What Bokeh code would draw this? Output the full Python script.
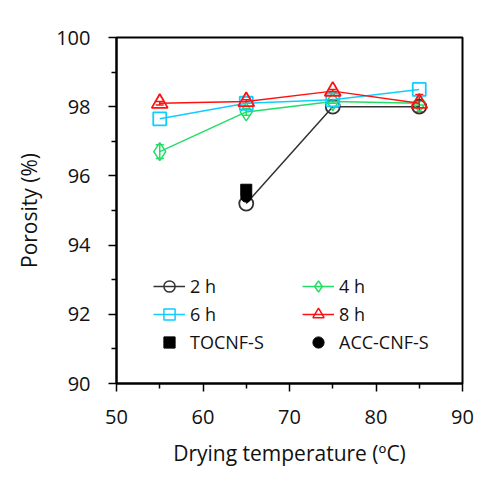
from bokeh.plotting import figure
from bokeh.models import Legend, LegendItem, Range1d, FixedTicker, Whisker, ColumnDataSource
from bokeh.embed import file_html
from bokeh.resources import INLINE

temps = [55, 65, 75, 85]
h2_x = [65, 75, 85]
h2_y = [95.2, 98.0, 98.0]
h4_y = [96.7, 97.85, 98.15, 98.1]
h6_y = [97.65, 98.1, 98.2, 98.5]
h8_y = [98.1, 98.15, 98.45, 98.1]
h4_err = [0.2, 0.1, 0.05, 0.05]
h8_err = [0.05, 0.05, 0.05, 0.25]
tocnf_x = [65]
tocnf_y = [95.6]
acc_x = [65]
acc_y = [95.4]
x_ticks = [50, 60, 70, 80, 90]
y_ticks = [90, 92, 94, 96, 98, 100]

FONT = "Open Sans"
C2, C4, C6, C8 = "#333333", "#22dd66", "#11ccff", "#ff1111"

p = figure(width=486, height=484, output_backend="svg", toolbar_location=None,
           x_range=Range1d(50, 90), y_range=Range1d(90, 100),
           min_border_left=116, min_border_right=24, min_border_top=37, min_border_bottom=101)
p.xgrid.visible = False
p.ygrid.visible = False
p.outline_line_color = "black"
p.outline_line_width = 2
p.background_fill_color = "white"
p.border_fill_color = "white"

for ax, ticks in ((p.xaxis, x_ticks), (p.yaxis, y_ticks)):
    ax.ticker = FixedTicker(ticks=ticks, minor_ticks=[t + (ticks[1]-ticks[0])/2 for t in ticks[:-1]])
    ax.axis_line_width = 2
    ax.major_tick_line_width = 1.5
    ax.minor_tick_line_width = 1.5
    ax.major_tick_out = 8
    ax.major_tick_in = 0
    ax.minor_tick_out = 5
    ax.minor_tick_in = 0
    ax.major_label_text_font = FONT
    ax.major_label_text_font_size = "20px"
    ax.major_label_text_color = "#111111"
    ax.axis_label_text_font = FONT
    ax.axis_label_text_font_size = "21px"
    ax.axis_label_text_font_style = "normal"
    ax.axis_label_text_color = "#111111"
p.xaxis.axis_label = "Drying temperature (ºC)"
p.yaxis.axis_label = "Porosity (%)"
p.xaxis.major_label_standoff = 18
p.yaxis.major_label_standoff = 18
p.xaxis.axis_label_standoff = 12
p.yaxis.axis_label_standoff = 10

# error bars
src4 = ColumnDataSource(dict(x=temps, lo=[y - e for y, e in zip(h4_y, h4_err)], hi=[y + e for y, e in zip(h4_y, h4_err)]))
src8 = ColumnDataSource(dict(x=temps, lo=[y - e for y, e in zip(h8_y, h8_err)], hi=[y + e for y, e in zip(h8_y, h8_err)]))
for src, c in ((src4, C4), (src8, C8)):
    w = Whisker(source=src, base="x", lower="lo", upper="hi", line_color=c, line_width=1.5)
    w.upper_head.size = 8
    w.lower_head.size = 8
    w.upper_head.line_color = c
    w.lower_head.line_color = c
    w.upper_head.line_width = 1.5
    w.lower_head.line_width = 1.5
    p.add_layout(w)

l2 = p.line(h2_x, h2_y, line_color=C2, line_width=1.5)
m2 = p.scatter(h2_x, h2_y, marker="circle", size=14, line_color=C2, fill_color="white", fill_alpha=0, line_width=1.8)
l4 = p.line(temps, h4_y, line_color=C4, line_width=1.5)
m4 = p.scatter(temps, h4_y, marker="diamond", size=18, line_color=C4, fill_alpha=0, line_width=1.5)
l6 = p.line(temps, h6_y, line_color=C6, line_width=1.5)
m6 = p.scatter(temps, h6_y, marker="square", size=13, line_color=C6, fill_alpha=0, line_width=1.8)
l8 = p.line(temps, h8_y, line_color=C8, line_width=1.5)
m8 = p.scatter(temps, h8_y, marker="triangle", size=16, line_color=C8, fill_alpha=0, line_width=1.8)
mt = p.scatter(tocnf_x, tocnf_y, marker="square", size=11, line_color="black", fill_color="black")
ma = p.scatter(acc_x, acc_y, marker="circle", size=11, line_color="black", fill_color="black")

# legend glyph proxies (smaller markers), placed outside visible range
off = [-1000]
lg2 = p.scatter(off, off, marker="circle", size=10, line_color=C2, fill_alpha=0, line_width=1.5)
lg4 = p.scatter(off, off, marker="diamond", size=11, line_color=C4, fill_alpha=0, line_width=1.5)
lg6 = p.scatter(off, off, marker="square", size=9, line_color=C6, fill_alpha=0, line_width=1.5)
lg8 = p.scatter(off, off, marker="triangle", size=10, line_color=C8, fill_alpha=0, line_width=1.5)
lt = p.scatter(off, off, marker="square", size=9, line_color="black", fill_color="black")
la = p.scatter(off, off, marker="circle", size=9, line_color="black", fill_color="black")

legend = Legend(items=[
    LegendItem(label="2 h", renderers=[l2, lg2]),
    LegendItem(label="6 h", renderers=[l6, lg6]),
    LegendItem(label="TOCNF-S", renderers=[lt]),
    LegendItem(label="4 h", renderers=[l4, lg4]),
    LegendItem(label="8 h", renderers=[l8, lg8]),
    LegendItem(label="ACC-CNF-S", renderers=[la]),
], ncols=2, location=(37, 27), orientation="vertical")
legend.background_fill_alpha = 0
legend.border_line_alpha = 0
legend.padding = 0
legend.margin = 0
legend.spacing = 0
legend.label_height = 28
legend.glyph_height = 28
legend.glyph_width = 32
legend.label_standoff = 5
legend.label_width = 112
legend.label_text_font = FONT
legend.label_text_font_size = "18px"
legend.label_text_color = "#111111"
p.add_layout(legend)

open("out.html", "w").write(file_html(p, INLINE))
